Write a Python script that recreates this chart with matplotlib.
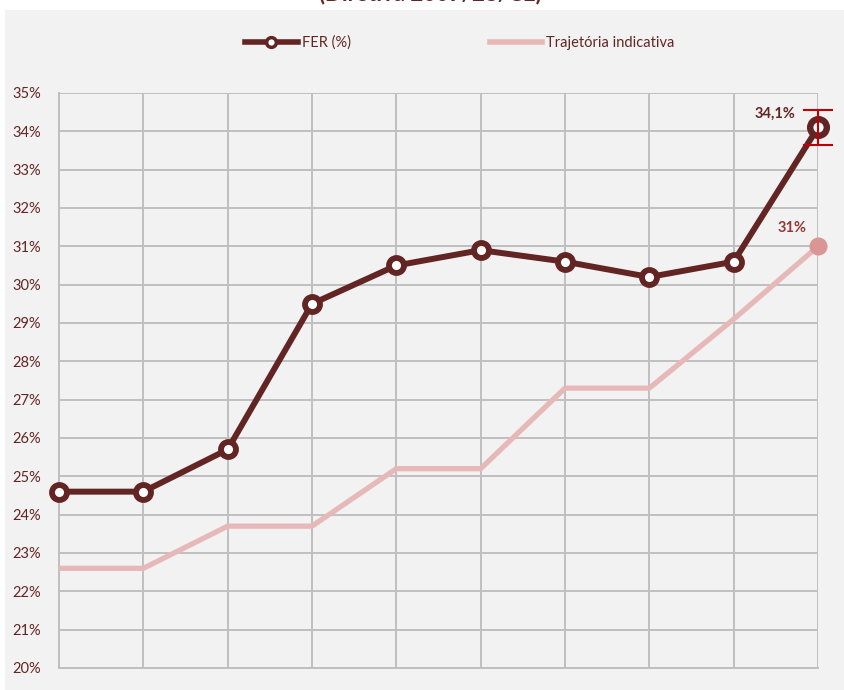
import matplotlib.pyplot as plt
from matplotlib.lines import Line2D
from matplotlib.patches import Rectangle
from matplotlib.ticker import FuncFormatter

plt.rcParams['font.family'] = ['Lato', 'DejaVu Sans']

# dados
anos = list(range(10))
fer = [24.6, 24.6, 25.7, 29.5, 30.5, 30.9, 30.6, 30.2, 30.6, 34.1]
trajetoria = [22.6, 22.6, 23.7, 23.7, 25.2, 25.2, 27.3, 27.3, 29.1, 31.0]
erro_final = 0.45
yticks = list(range(20, 36))

maroon = '#632523'
rosa = '#e6b9b8'
grelha = '#bfbfbf'

fig = plt.figure(figsize=(8.44, 6.9), dpi=100)
fig.patch.set_facecolor('white')
# caixa cinzenta do gráfico
fig.patches.append(Rectangle((5 / 844, 0), 1, 1 - 10 / 690, transform=fig.transFigure,
                             facecolor='#f2f2f2', edgecolor='none', zorder=-10))
fig.text(430 / 844, 1 - 4 / 690, '(Diretiva 2009/28/CE)', ha='center', va='bottom',
         fontsize=16, fontweight='bold', color=maroon)

ax = fig.add_axes([59 / 844, 1 - 668 / 690, (818 - 59) / 844, (668 - 93) / 690])
ax.set_facecolor('#f2f2f2')

ax.plot(anos, trajetoria, color=rosa, lw=3.8, solid_capstyle='butt', zorder=3, clip_on=False)
ax.plot(anos[-1], trajetoria[-1], 'o', color='#d99694', ms=12, zorder=4, clip_on=False)
ax.plot(anos, fer, color=maroon, lw=4.3, marker='o', ms=10.8, mfc='white',
        mec=maroon, mew=4.2, zorder=5, clip_on=False)
# último ponto ligeiramente maior
ax.plot(anos[-1], fer[-1], 'o', ms=12, mfc='white', mec=maroon, mew=4.6, zorder=5, clip_on=False)
eb = ax.errorbar(anos[-1], fer[-1], yerr=erro_final, fmt='none', ecolor='#c00000',
                 elinewidth=1.5, capsize=11, capthick=1.5, zorder=6)
for art in eb.lines[1] + eb.lines[2]:
    art.set_clip_on(False)

ax.annotate('34,1%', (anos[-1], fer[-1]), xytext=(-16, 10), textcoords='offset points',
            ha='right', va='center', fontsize=10.5, fontweight='bold', color=maroon)
ax.annotate('31%', (anos[-1], trajetoria[-1]), xytext=(-8, 13), textcoords='offset points',
            ha='right', va='center', fontsize=10.5, fontweight='bold', color='#953735')

ax.set_xlim(anos[0], anos[-1])
ax.set_ylim(20, 35)
ax.set_yticks(yticks)
ax.yaxis.set_major_formatter(FuncFormatter(lambda v, p: '%d%%' % v))
ax.set_xticks(anos)
ax.set_xticklabels([])
ax.tick_params(axis='y', length=0, pad=13, labelsize=10.5, labelcolor=maroon)
ax.tick_params(axis='x', length=0)
ax.grid(True, color=grelha, lw=1.4)
ax.set_axisbelow(True)
for s in ax.spines.values():
    s.set_color(grelha)
    s.set_linewidth(1.4)
ax.spines['top'].set_visible(False)
ax.spines['right'].set_visible(False)

handles = [Line2D([], [], color=maroon, lw=4, marker='o', ms=7, mfc='white', mec=maroon, mew=2.5),
           Line2D([], [], color=rosa, lw=4)]
fig.legend(handles, ['FER (%)', 'Trajetória indicativa'], loc='center',
           bbox_to_anchor=(460 / 844, 1 - 43 / 690), ncol=2, frameon=False,
           fontsize=10.5, handlelength=3.6, handletextpad=0.3, columnspacing=9.5,
           labelcolor=maroon)

fig.savefig('out.png', dpi=100, facecolor=fig.get_facecolor())
